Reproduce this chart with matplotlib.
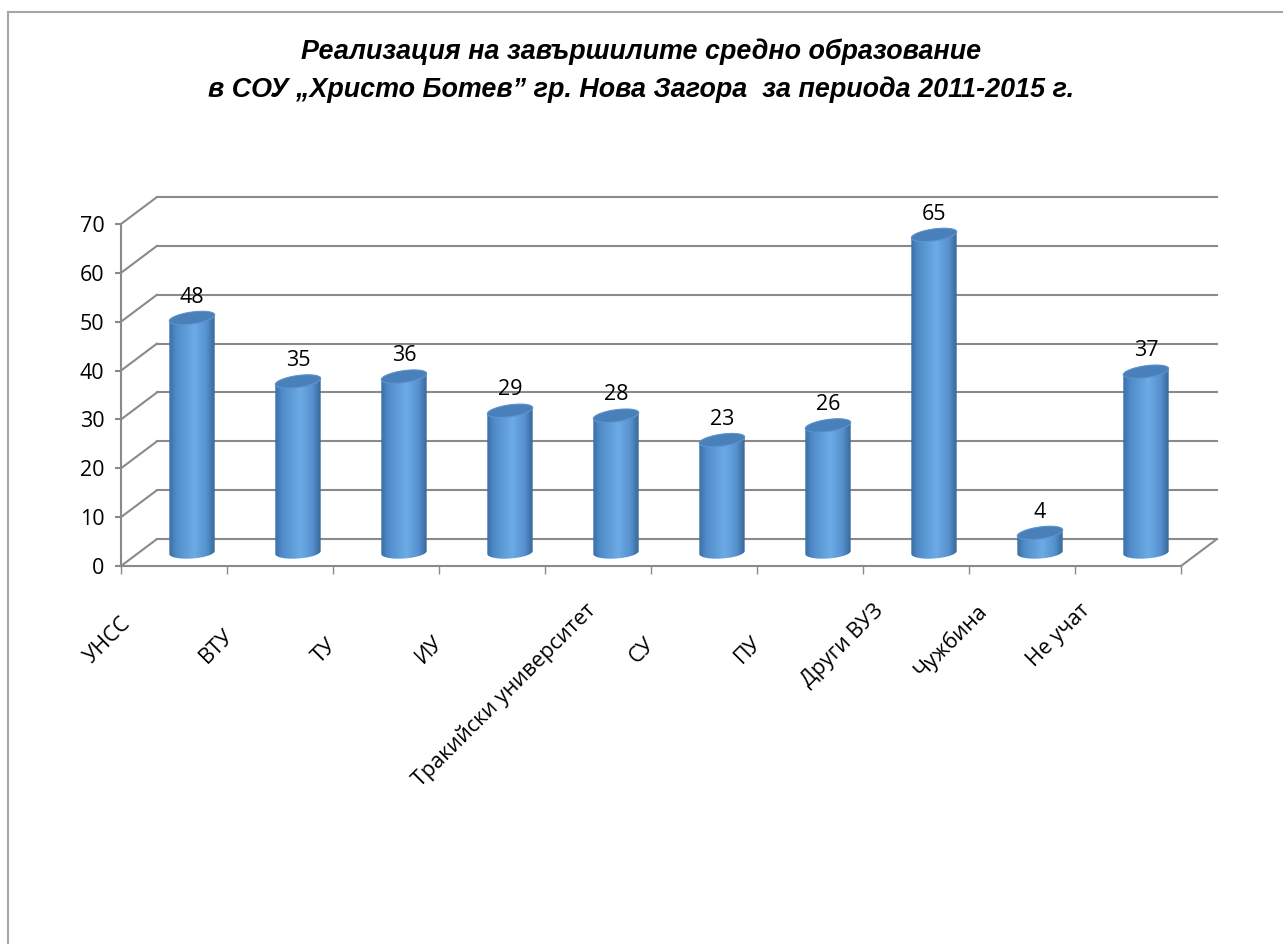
import numpy as np
import matplotlib
matplotlib.use('Agg')
import matplotlib.pyplot as plt
from matplotlib.colors import LinearSegmentedColormap
from matplotlib.patches import Polygon, ConnectionPatch
from matplotlib.transforms import ScaledTranslation, IdentityTransform
from matplotlib.lines import Line2D

plt.rcParams['font.family'] = ['Open Sans', 'DejaVu Sans']

title_lines = ['Реализация на завършилите средно образование',
               'в СОУ „Христо Ботев” гр. Нова Загора  за периода 2011-2015 г.']
categories = ['УНСС', 'ВТУ', 'ТУ', 'ИУ', 'Тракийски университет',
              'СУ', 'ПУ', 'Други ВУЗ', 'Чужбина', 'Не учат']
values = [48, 35, 36, 29, 28, 23, 26, 65, 4, 37]
y_ticks = [0, 10, 20, 30, 40, 50, 60, 70]

W, H, DPI = 1283, 944, 100
grid_col = '#8a8a8a'
n = len(categories)
fs = 15.5

fig = plt.figure(figsize=(W / DPI, H / DPI), dpi=DPI)
ax = fig.add_axes([121 / W, (H - 566) / H, 1060 / W, 342 / H])
ax.set_xlim(0, n)
ax.set_ylim(0, y_ticks[-1])

# depth of the 3d box in pixels (back wall) and half of it (bars)
depth = (36, 27)
back = ax.transData + ScaledTranslation(depth[0] / DPI, depth[1] / DPI, fig.dpi_scale_trans)
mid = ax.transData + ScaledTranslation(depth[0] / 2 / DPI, depth[1] / 2 / DPI, fig.dpi_scale_trans)

# back wall gridlines + left wall diagonals
for v in y_ticks:
    ax.plot([0, n], [v, v], transform=back, color=grid_col, lw=1.5, clip_on=False, zorder=1)
    ax.add_artist(ConnectionPatch((0, v), (0, v), coordsA=ax.transData, coordsB=back,
                                  color=grid_col, lw=1.5, zorder=1))
# right edge of the floor
ax.add_artist(ConnectionPatch((n, 0), (n, 0), coordsA=ax.transData, coordsB=back,
                              color=grid_col, lw=1.5, zorder=1))

for side in ['top', 'right']:
    ax.spines[side].set_visible(False)
for side in ['left', 'bottom']:
    ax.spines[side].set_color(grid_col)
    ax.spines[side].set_linewidth(1.5)
ax.set_facecolor('none')
ax.set_yticks(y_ticks)
ax.set_xticks(range(n + 1))
ax.set_xticklabels([])
ax.tick_params(axis='y', length=4, width=1.5, color=grid_col, pad=8, labelsize=fs)
ax.tick_params(axis='x', length=6, width=1, color=grid_col)

# cylinders
px_per_unit = 342 / y_ticks[-1]
half_w = 0.214
ry = 6.0 / px_per_unit
tilt_bot = 1.5 / px_per_unit
tilt_top = 3.0 / px_per_unit
body_cmap = LinearSegmentedColormap.from_list('cyl', [
    (0.0, '#3a6da4'), (0.15, '#4f8bc8'), (0.55, '#6cabe6'), (0.82, '#5591ce'), (1.0, '#386899')])
grad = np.linspace(0, 1, 256)[None, :]

for i, v in enumerate(values):
    xc = i + 0.5
    t = np.linspace(0, np.pi, 60)
    bx = xc - half_w * np.cos(t)
    by = -ry * np.sin(t) - tilt_bot * np.cos(t)
    tx = xc + half_w * np.cos(t)
    ty = v + ry * np.sin(t) + tilt_top * np.cos(t)
    body = Polygon(np.column_stack([np.r_[bx, tx], np.r_[by, ty]]), closed=True,
                   transform=mid, facecolor='none', edgecolor='none', clip_on=False)
    ax.add_patch(body)
    img = ax.imshow(grad, cmap=body_cmap, aspect='auto', transform=mid,
                    extent=(xc - half_w, xc + half_w, -ry - tilt_bot, v + ry + tilt_top),
                    zorder=3, interpolation='bilinear')
    img.set_clip_path(body)
    u = np.linspace(0, 2 * np.pi, 120)
    cap = Polygon(np.column_stack([xc + half_w * np.cos(u), v + ry * np.sin(u) + tilt_top * np.cos(u)]),
                  closed=True, transform=mid, facecolor='#4a80ba', edgecolor='#5e95cf',
                  lw=0.8, zorder=4, clip_on=False)
    ax.add_patch(cap)
    ax.annotate(str(v), (xc, v), xycoords=mid, xytext=(0, 15), textcoords='offset points',
                ha='center', va='center', fontsize=fs, zorder=5, annotation_clip=False)

ax.set_xlim(0, n)
ax.set_ylim(0, y_ticks[-1])

# title
for k, line in enumerate(title_lines):
    fig.text(0.5, 1 - (52 + 38 * k) / H, line, ha='center', va='center',
             fontsize=19.4, fontweight='bold', style='italic',
             family=['Liberation Sans', 'DejaVu Sans'])

# outer frame (left and top only)
fig.add_artist(Line2D([8 / W, 8 / W], [0, 1 - 12 / H], transform=fig.transFigure, color='#a6a6a6', lw=1.5))
fig.add_artist(Line2D([8 / W, 1], [1 - 12 / H, 1 - 12 / H], transform=fig.transFigure, color='#a6a6a6', lw=1.5))

# rotated category labels, positioned like the Excel layout
renderer = fig.canvas.get_renderer()
labels = []
for i, name in enumerate(categories):
    lab = fig.text(0, 0, name, rotation=45, ha='right', va='bottom', fontsize=fs,
                   transform=IdentityTransform())
    labels.append(lab)
for i, lab in enumerate(labels):
    h = lab.get_window_extent(renderer).height
    cx = ax.transData.transform((i + 0.5, 0))[0]
    right = cx - 55 + 0.3 * h
    bottom_from_top = max(668, 600 + h)
    lab.set_position((right, H - bottom_from_top))

fig.savefig('out.png', dpi=DPI)
